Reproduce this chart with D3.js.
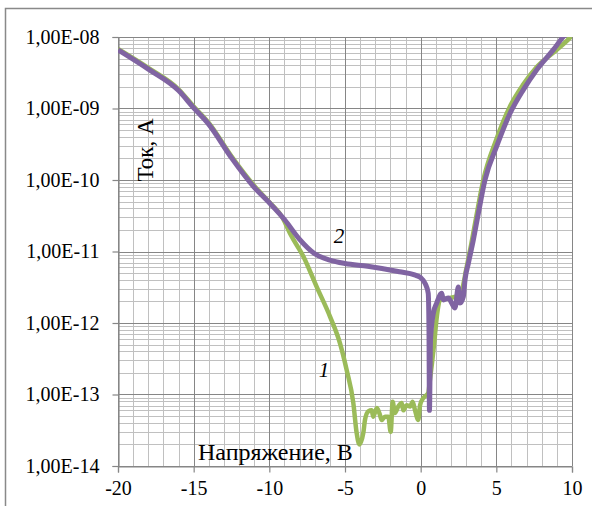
<!DOCTYPE html>
<html>
<head>
<meta charset="utf-8">
<script src="https://cdn.jsdelivr.net/npm/d3@7"></script>
<style>
  body { margin: 0; background: #fff; }
</style>
</head>
<body>
<div id="chart"></div>
<script>
const WIDTH = 592;
const HEIGHT = 506;
const MARGIN = { top: 37, right: 20, bottom: 40, left: 118 };
const PLOT_HEIGHT = 429;
const FONT = "'Liberation Serif', 'Times New Roman', 'DejaVu Serif', serif";

const COLORS = {
  curve1: "#9bbb59",
  curve2: "#8064a2",
  gridMinor: "#c0c0c0",
  gridMajor: "#868686",
};

// x ticks (V) and y ticks (A)
const xTicks = [-20, -15, -10, -5, 0, 5, 10];
const yTicks = [1e-14, 1e-13, 1e-12, 1e-11, 1e-10, 1e-9, 1e-8];
const yTickLabels = ["1,00E-14", "1,00E-13", "1,00E-12", "1,00E-11", "1,00E-10", "1,00E-09", "1,00E-08"];

// curve 1 (green)
const voltage1 = [-20, -18, -16, -15, -14, -12.5, -11, -10, -9.1, -8.63, -7.75, -6.87, -5.99, -5.33, -4.89,
  -4.45, -4.23, -4.05, -3.79, -3.68, -3.46, -3.24, -3.13, -2.9, -2.73, -2.57, -2.36, -2.14, -1.98, -1.85,
  -1.7, -1.48, -1.25, -1.15, -0.92, -0.7, -0.53, -0.37, -0.16, -0.04, 0.17, 0.5, 0.61, 0.88, 1.08, 1.28,
  1.94, 2.47, 2.73, 3.0, 3.33, 3.66, 4.14, 4.98, 5.9, 6.76, 7.67, 8.99, 9.87, 10];
const current1 = [6.8e-9, 3.7e-9, 1.86e-9, 1.07e-9, 6.3e-10, 2.14e-10, 8.3e-11, 4.9e-11, 2.9e-11, 1.78e-11,
  8.5e-12, 3.2e-12, 1.23e-12, 5.2e-13, 2.2e-13, 7.6e-14, 2.9e-14, 2.0e-14, 2.9e-14, 4.4e-14, 5.8e-14,
  6.0e-14, 4.9e-14, 6.5e-14, 5.5e-14, 4.4e-14, 4.9e-14, 4.9e-14, 3.0e-14, 7.9e-14, 5.5e-14, 6.8e-14,
  7.6e-14, 6.0e-14, 7.1e-14, 6.8e-14, 7.9e-14, 6.0e-14, 4.4e-14, 7.1e-14, 8.9e-14, 1.05e-13, 1.58e-13,
  4.9e-13, 1.29e-12, 2.1e-12, 2.24e-12, 2.4e-12, 2.9e-12, 5.5e-12, 1.23e-11, 2.95e-11, 1.0e-10, 3.6e-10,
  1.07e-9, 2.14e-9, 3.8e-9, 6.6e-9, 9.8e-9, 1.05e-8];

// curve 2 (purple)
const voltage2 = [-20, -18, -16, -15, -14, -12.5, -11, -10, -9, -8, -7, -6, -5, -3.5, -1.4, -0.4, 0, 0.3,
  0.5, 0.55, 0.58, 0.65, 0.84, 1.06, 1.39, 1.5, 1.83, 2.05, 2.27, 2.49, 2.6, 2.82, 2.93, 3.15, 3.48, 3.81,
  4.25, 5.02, 5.9, 6.78, 7.67, 8.76, 9.41, 10];
const current2 = [6.6e-9, 3.55e-9, 1.78e-9, 1.02e-9, 6.0e-10, 2.04e-10, 7.9e-11, 4.8e-11, 2.8e-11, 1.48e-11,
  9.3e-12, 7.6e-12, 6.8e-12, 6.2e-12, 5.2e-12, 4.7e-12, 4.3e-12, 3.55e-12, 2.6e-12, 7.9e-13, 6.0e-14,
  5.8e-13, 1.38e-12, 1.9e-12, 2.6e-12, 2.1e-12, 2.24e-12, 1.9e-12, 1.62e-12, 3.2e-12, 1.9e-12, 2.34e-12,
  4.0e-12, 6.8e-12, 1.45e-11, 3.4e-11, 1.0e-10, 2.95e-10, 8.5e-10, 1.82e-9, 3.47e-9, 6.6e-9, 1.0e-8, 1.35e-8];

const innerWidth = WIDTH - MARGIN.left - MARGIN.right;
const innerHeight = PLOT_HEIGHT;

const svg = d3.select("#chart")
  .append("svg")
  .attr("width", WIDTH)
  .attr("height", HEIGHT);

// outer chart frame (only its left and top edges fall inside the picture)
svg.append("rect")
  .attr("x", 5.5)
  .attr("y", 8.5)
  .attr("width", 600)
  .attr("height", 600)
  .attr("fill", "none")
  .attr("stroke", "#898989")
  .attr("stroke-width", 1.5);

const g = svg.append("g")
  .attr("transform", `translate(${MARGIN.left},${MARGIN.top})`);

const x = d3.scaleLinear().domain([-20, 10]).range([0, innerWidth]);
const y = d3.scaleLog().domain([1e-14, 1e-8]).range([innerHeight, 0]);

// —— Grid ——
const grid = g.append("g").attr("class", "grid").attr("shape-rendering", "crispEdges");

const xMinor = d3.range(-20, 11, 1).filter((v) => v % 5 !== 0);
grid.selectAll(".gx-minor")
  .data(xMinor)
  .join("line")
  .attr("x1", (d) => Math.round(x(d)) + 0.5)
  .attr("x2", (d) => Math.round(x(d)) + 0.5)
  .attr("y1", 0)
  .attr("y2", innerHeight)
  .attr("stroke", COLORS.gridMinor);

const yMinor = y.ticks().filter((d) => !yTicks.some((t) => Math.abs(t - d) / t < 1e-6));
grid.selectAll(".gy-minor")
  .data(yMinor)
  .join("line")
  .attr("x1", 0)
  .attr("x2", innerWidth)
  .attr("y1", (d) => Math.round(y(d)) + 0.5)
  .attr("y2", (d) => Math.round(y(d)) + 0.5)
  .attr("stroke", COLORS.gridMinor);

grid.selectAll(".gx-major")
  .data(xTicks)
  .join("line")
  .attr("x1", (d) => Math.round(x(d)) + 0.5)
  .attr("x2", (d) => Math.round(x(d)) + 0.5)
  .attr("y1", 0)
  .attr("y2", innerHeight)
  .attr("stroke", COLORS.gridMajor);

grid.selectAll(".gy-major")
  .data(yTicks)
  .join("line")
  .attr("x1", 0)
  .attr("x2", innerWidth)
  .attr("y1", (d) => Math.round(y(d)) + 0.5)
  .attr("y2", (d) => Math.round(y(d)) + 0.5)
  .attr("stroke", COLORS.gridMajor);

// —— Axes ——
const xAxis = g.append("g")
  .attr("transform", `translate(0,${innerHeight + 0.5})`)
  .call(d3.axisBottom(x).tickValues(xTicks).tickSize(6).tickPadding(8).tickFormat((d) => String(d)));

const yAxis = g.append("g")
  .attr("transform", "translate(0.5,0)")
  .call(d3.axisLeft(y).tickValues(yTicks).tickSize(6).tickPadding(13)
    .tickFormat((d, i) => yTickLabels[i]));

[xAxis, yAxis].forEach((ax) => {
  ax.attr("font-family", FONT).attr("font-size", 20);
  ax.select(".domain").attr("stroke", COLORS.gridMajor).attr("stroke-width", 1.2);
  ax.selectAll(".tick line").attr("stroke", COLORS.gridMajor).attr("stroke-width", 1.2);
  ax.selectAll("text")
    .style("font-family", FONT)
    .style("font-size", "20px")
    .attr("fill", "#000");
});

// —— Lines ——
g.append("clipPath")
  .attr("id", "plot-clip")
  .append("rect")
  .attr("width", innerWidth)
  .attr("height", innerHeight);

const series1 = voltage1.map((v, i) => ({ v, i: current1[i] }));
const series2 = voltage2.map((v, i) => ({ v, i: current2[i] }));

const line = d3.line()
  .curve(d3.curveMonotoneX)
  .x((d) => x(d.v))
  .y((d) => y(d.i));

const lines = g.append("g").attr("clip-path", "url(#plot-clip)");

lines.append("path")
  .datum(series1)
  .attr("fill", "none")
  .attr("stroke", COLORS.curve1)
  .attr("stroke-width", 4.5)
  .attr("stroke-linejoin", "round")
  .attr("d", line);

lines.append("path")
  .datum(series2)
  .attr("fill", "none")
  .attr("stroke", COLORS.curve2)
  .attr("stroke-width", 5)
  .attr("stroke-linejoin", "round")
  .attr("d", line);

// —— Curve labels ——
g.append("text")
  .attr("x", 339 - MARGIN.left)
  .attr("y", 243 - MARGIN.top)
  .attr("text-anchor", "middle")
  .style("font-family", FONT)
  .style("font-size", "21px")
  .style("font-style", "italic")
  .text("2");

g.append("text")
  .attr("x", 324 - MARGIN.left)
  .attr("y", 377 - MARGIN.top)
  .attr("text-anchor", "middle")
  .style("font-family", FONT)
  .style("font-size", "21px")
  .style("font-style", "italic")
  .text("1");

// —— Axis titles (inside plot, as in the source) ——
g.append("text")
  .attr("transform", `translate(${153 - MARGIN.left},${150 - MARGIN.top}) rotate(-90)`)
  .attr("text-anchor", "middle")
  .style("font-family", FONT)
  .style("font-size", "23px")
  .text("Ток, А");

g.append("text")
  .attr("x", 198 - MARGIN.left)
  .attr("y", 460 - MARGIN.top)
  .style("font-family", FONT)
  .style("font-size", "24px")
  .text("Напряжение, В");
</script>
</body>
</html>
